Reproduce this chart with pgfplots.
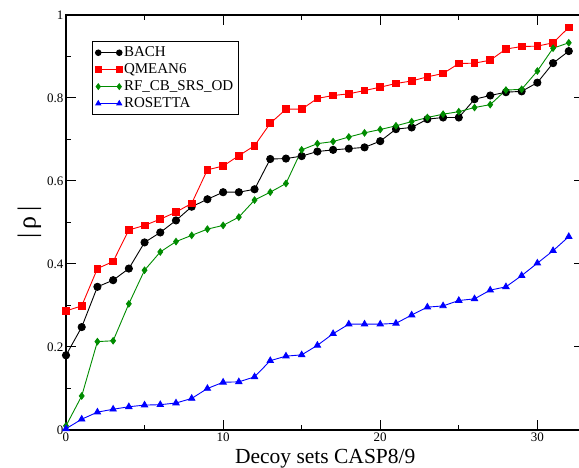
\documentclass[border=0pt]{standalone}
\usepackage{pgfplots}
\usepackage{pgfplotstable}
\pgfplotsset{compat=1.18}
\usepackage{fontspec}
\setmainfont{Liberation Serif}
\definecolor{myred}{RGB}{255,0,0}
\definecolor{mygreen}{RGB}{0,140,0}
\definecolor{myblue}{RGB}{0,0,255}
\pgfplotstableread{
x bach qmean rf ros
0 0.180 0.287 0.010 0.003
1 0.248 0.299 0.082 0.026
2 0.345 0.389 0.213 0.043
3 0.361 0.406 0.215 0.050
4 0.389 0.482 0.304 0.056
5 0.452 0.493 0.385 0.060
6 0.476 0.508 0.429 0.061
7 0.505 0.525 0.454 0.065
8 0.538 0.546 0.469 0.076
9 0.556 0.627 0.484 0.100
10 0.573 0.636 0.493 0.115
11 0.573 0.661 0.513 0.116
12 0.580 0.685 0.554 0.128
13 0.653 0.739 0.573 0.167
14 0.654 0.773 0.594 0.178
15 0.660 0.773 0.675 0.181
16 0.671 0.799 0.690 0.204
17 0.675 0.806 0.695 0.232
18 0.678 0.810 0.706 0.255
19 0.681 0.818 0.716 0.255
20 0.696 0.826 0.724 0.255
21 0.725 0.835 0.733 0.257
22 0.729 0.841 0.743 0.277
23 0.749 0.851 0.753 0.296
24 0.753 0.859 0.761 0.299
25 0.753 0.883 0.767 0.312
26 0.797 0.884 0.777 0.316
27 0.806 0.891 0.784 0.337
28 0.814 0.918 0.819 0.345
29 0.816 0.924 0.821 0.372
30 0.837 0.925 0.865 0.402
31 0.884 0.933 0.920 0.432
32 0.913 0.970 0.933 0.466
}\datatable
\begin{document}
\begin{tikzpicture}
\path[use as bounding box] (-66pt,-38pt) rectangle (513pt,430pt);
\begin{axis}[
  scale only axis,
  width=518.5pt, height=415pt,
  xmin=0, xmax=33, ymin=0, ymax=1,
  clip=false,
  axis line style={line width=1.2pt},
  xtick={0,10,20,30}, minor xtick={5,15,25},
  ytick={0,0.2,0.4,0.6,0.8,1}, minor ytick={0.1,0.3,0.5,0.7,0.9},
  tick align=inside, tick pos=both,
  major tick length=10pt, minor tick length=5pt,
  every tick/.style={black, line width=1pt},
  /pgf/number format/assume math mode=true,
  tick label style={font=\fontsize{13}{15}\selectfont},
  yticklabel style={xshift=1pt},
  xticklabel style={yshift=1pt},
  xlabel={Decoy sets CASP8/9},
  xlabel style={font=\fontsize{21.5}{24}\selectfont, yshift=-1pt},
  ylabel={|\,ρ\,|},
  ylabel style={font=\fontsize{26}{28}\selectfont, yshift=-1pt},
  legend style={at={(rel axis cs:0.0501,0.9373)}, anchor=north west,
    font=\fontsize{15}{16.5}\selectfont, draw=black, line width=1pt,
    inner xsep=3pt, inner ysep=3.5pt, row sep=1.5pt, cells={anchor=west}},
  legend image code/.code={\draw[mark repeat=2,mark phase=1,#1,mark size=2.8pt] plot coordinates {(0pt,0pt) (10.5pt,0pt) (21pt,0pt)};},
]
\addplot[black, line width=0.9pt, mark=*, mark size=3.6pt, mark options={solid}] table[x=x,y=bach] {\datatable};
\addlegendentry{BACH}
\addplot[myred, line width=0.9pt, mark=square*, mark size=3.4pt, mark options={solid}] table[x=x,y=qmean] {\datatable};
\addlegendentry{QMEAN6}
\addplot[mygreen, line width=0.9pt, mark=diamond*, mark size=3.2pt, mark options={solid}] table[x=x,y=rf] {\datatable};
\addlegendentry{RF\_CB\_SRS\_OD}
\addplot[myblue, line width=0.9pt, mark=triangle*, mark size=3.6pt, mark options={solid}] table[x=x,y=ros] {\datatable};
\addlegendentry{ROSETTA}
\end{axis}
\end{tikzpicture}
\end{document}
